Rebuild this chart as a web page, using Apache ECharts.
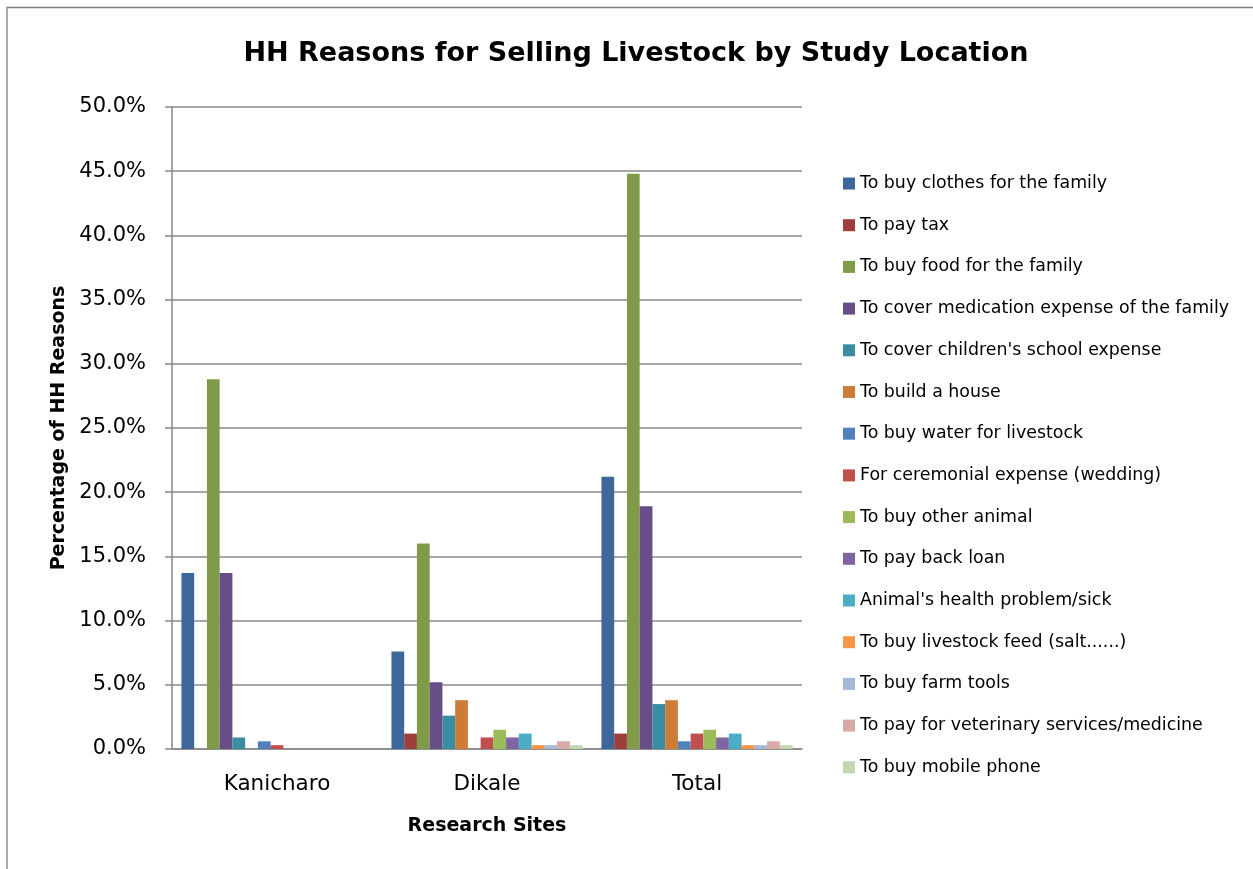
<!DOCTYPE html>
<html>
<head>
<meta charset="utf-8">
<script src="https://cdn.jsdelivr.net/npm/echarts@6/dist/echarts.min.js"></script>
<style>
  html, body { margin: 0; padding: 0; background: #fff; }
  #chart { width: 1253px; height: 869px; }
</style>
</head>
<body>
<div id="chart"></div>
<script>
// Study locations (x categories)
const sites = ['Kanicharo', 'Dikale', 'Total'];

// Reasons for selling livestock (one series each)
const reasons = [
  'To buy clothes for the family',
  'To pay tax',
  'To buy food for the family',
  'To cover medication expense of the family',
  "To cover children's school expense",
  'To build a house',
  'To buy water for livestock',
  'For ceremonial expense (wedding)',
  'To buy other animal',
  'To pay back loan',
  "Animal's health problem/sick",
  'To buy livestock feed (salt......)',
  'To buy farm tools',
  'To pay for veterinary services/medicine',
  'To buy mobile phone'
];

// Percentages per reason: [Kanicharo, Dikale, Total]
const clothes    = [13.7, 7.6, 21.2];
const tax        = [0, 1.2, 1.2];
const food       = [28.8, 16.0, 44.8];
const medication = [13.7, 5.2, 18.9];
const school     = [0.9, 2.6, 3.5];
const house      = [0, 3.8, 3.8];
const water      = [0.6, 0, 0.6];
const ceremonial = [0.3, 0.9, 1.2];
const otherAnimal= [0, 1.5, 1.5];
const loan       = [0, 0.9, 0.9];
const animalSick = [0, 1.2, 1.2];
const feed       = [0, 0.3, 0.3];
const farmTools  = [0, 0.3, 0.3];
const vet        = [0, 0.6, 0.6];
const phone      = [0, 0.3, 0.3];

const seriesValues = [clothes, tax, food, medication, school, house, water,
  ceremonial, otherAnimal, loan, animalSick, feed, farmTools, vet, phone];

// Y axis tick settings (percent)
const yMin = 0, yMax = 50, yStep = 5;

const palette = ['#3D679A', '#9E3E3A', '#7F9B47', '#684E86', '#3A8DA3', '#CD7C38',
  '#4F81BD', '#C0504D', '#9BBB59', '#8064A2', '#4BACC6', '#F79646',
  '#A7B9D9', '#D9A9A8', '#C4D6B0'];

const font = '"DejaVu Sans", "Open Sans", sans-serif';

const chart = echarts.init(document.getElementById('chart'), null, { renderer: 'canvas' });

chart.setOption({
  animation: false,
  color: palette,
  textStyle: { fontFamily: font, color: '#000' },
  // chart frame (top and left edges visible)
  graphic: [{
    type: 'rect',
    shape: { x: 7, y: 7.5, width: 1260, height: 880 },
    style: { fill: 'none', stroke: '#7f7f7f', lineWidth: 1.3 },
    silent: true
  }],
  title: {
    text: 'HH Reasons for Selling Livestock by Study Location',
    left: 631, top: 35, textAlign: 'center',
    textStyle: { fontFamily: font, fontSize: 27, fontWeight: 'bold', color: '#000' }
  },
  legend: {
    orient: 'vertical',
    left: 843, top: 175,
    padding: 0,
    itemWidth: 12, itemHeight: 12, itemGap: 24.7,
    icon: 'rect',
    textStyle: { fontFamily: font, fontSize: 17.4, lineHeight: 17, color: '#000' },
    data: reasons
  },
  grid: { left: 172, right: 451, top: 107, bottom: 120, containLabel: false },
  xAxis: {
    type: 'category',
    data: sites,
    name: 'Research Sites',
    nameLocation: 'middle',
    nameGap: 68,
    nameTextStyle: { fontFamily: font, fontSize: 19, fontWeight: 'bold', color: '#000' },
    axisLine: { lineStyle: { color: '#888', width: 1.5 } },
    axisTick: { show: false },
    axisLabel: { fontFamily: font, fontSize: 21.5, color: '#000', margin: 24 }
  },
  yAxis: {
    type: 'value',
    min: yMin, max: yMax, interval: yStep,
    name: 'Percentage of HH Reasons',
    nameLocation: 'middle',
    nameGap: 102,
    nameTextStyle: { fontFamily: font, fontSize: 19, fontWeight: 'bold', color: '#000' },
    axisLine: { show: true, lineStyle: { color: '#888', width: 1.5 } },
    axisTick: { show: true, length: 7, lineStyle: { color: '#888', width: 1.5 } },
    splitLine: { lineStyle: { color: '#888', width: 1.5 } },
    axisLabel: {
      fontFamily: font, fontSize: 21, color: '#000', margin: 26,
      formatter: v => v.toFixed(1) + '%'
    }
  },
  series: reasons.map((name, i) => ({
    name: name,
    type: 'bar',
    data: seriesValues[i],
    barGap: '0%',
    barCategoryGap: '9%'
  }))
});
</script>
</body>
</html>
